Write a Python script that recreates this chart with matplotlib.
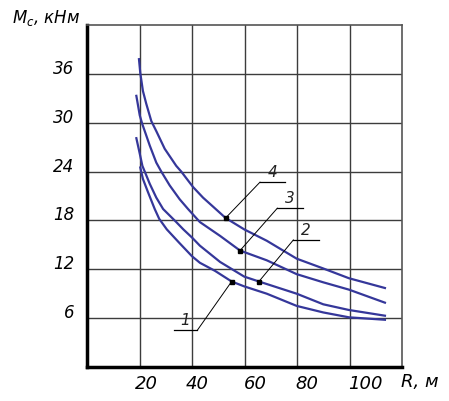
import numpy as np
import matplotlib.pyplot as plt
import matplotlib.transforms as mtransforms

plt.rcParams['font.family'] = ['DejaVu Sans']

# R, m  ->  Mc, kNm (1 = lowest ... 4 = highest)
r1 = [20.3, 21.3, 23.2, 25.8, 27.5, 30.4, 35, 40, 43, 48.8, 55.1, 59.9, 68.5, 79.9, 90, 99.8, 113.5]
m1 = [24.5, 23.1, 21.5, 19.4, 18.2, 16.9, 15.3, 13.6, 12.8, 11.8, 10.5, 9.9, 9.0, 7.5, 6.7, 6.1, 5.8]
r2 = [18.8, 20.1, 21.1, 22.0, 23.9, 26.4, 29, 34, 36.7, 40, 43, 50.7, 59.9, 65.5, 79.9, 90, 99.8, 113.5]
m2 = [28.1, 26.2, 24.7, 24.0, 22.5, 20.8, 19.4, 17.8, 16.9, 15.9, 14.9, 12.9, 11.1, 10.5, 9.0, 7.7, 7.0, 6.3]
r3 = [18.8, 20.1, 21.1, 22.4, 23.9, 26.4, 28.3, 31.5, 35.3, 38.5, 43, 50.7, 58.3, 68.5, 79.9, 90, 99.8, 113.5]
m3 = [33.3, 30.9, 29.8, 28.6, 27.2, 25.1, 24.0, 22.3, 20.6, 19.4, 17.8, 16.1, 14.3, 13.1, 11.4, 10.4, 9.5, 7.9]
r4 = [19.8, 20.3, 21.3, 22.6, 24.5, 26.5, 29.6, 34.0, 35.9, 40.4, 44.2, 48, 52.8, 59.9, 68.5, 79.9, 90, 99.8, 113.5]
m4 = [37.8, 36.1, 33.9, 32.3, 30.2, 28.9, 26.8, 24.7, 24.0, 22.1, 20.8, 19.7, 18.3, 16.9, 15.5, 13.3, 12.1, 10.9, 9.7]

curve_names = ['1', '2', '3', '4']
# points on the curves where the callouts start
mark_r = [55.1, 65.5, 58.3, 52.8]
mark_m = [10.5, 10.5, 14.3, 18.3]

x_ticks = [20, 40, 60, 80, 100]
y_ticks = [6, 12, 18, 24, 30, 36]

line_col = '#35379a'
grid_col = '#3c3c3c'

fig = plt.figure(figsize=(4.49, 4.02), dpi=100)
ax = fig.add_axes([87/449, 34/402, 315/449, 342/402])

for r, m in [(r1, m1), (r2, m2), (r3, m3), (r4, m4)]:
    ax.plot(r, m, color=line_col, lw=1.6, zorder=3, solid_joinstyle='round')

ax.plot(mark_r, mark_m, 's', color='black', ms=3, zorder=4)

# callout shelves: (x from, x to, y), leader goes to the near end
shelf = [(33.1, 42.0, 4.5), (78.6, 88.4, 15.6), (72.5, 82.2, 19.5), (65.9, 75.4, 22.7)]
for i in range(4):
    x0, x1, ys = shelf[i]
    end = x1 if i == 0 else x0
    ax.plot([mark_r[i], end], [mark_m[i], ys], color='black', lw=0.7, zorder=4)
    ax.plot([x0, x1], [ys, ys], color='black', lw=0.9, zorder=4)
    ax.text((x0 + x1) / 2, ys + 0.4, curve_names[i], fontsize=11, style='italic',
            ha='center', va='bottom', color='#222222')

ax.set_xlim(0, 120)
ax.set_ylim(0, 42)
ax.set_xticks(x_ticks)
ax.set_yticks(y_ticks)
ax.set_xticklabels([str(v) for v in x_ticks], fontsize=13, style='italic')
ax.set_yticklabels([str(v) for v in y_ticks], fontsize=12, style='italic')
ax.tick_params(length=0)
ax.tick_params(axis='y', pad=9)
ax.tick_params(axis='x', pad=5)
ax.grid(True, color=grid_col, lw=1.0)
ax.set_axisbelow(True)

for s in ['left', 'bottom']:
    ax.spines[s].set_linewidth(2.5)
    ax.spines[s].set_color('black')
for s in ['top', 'right']:
    ax.spines[s].set_linewidth(1.2)
    ax.spines[s].set_color('#555555')

# shift tick labels a little, as in the drawing
for lab in ax.get_yticklabels():
    lab.set_transform(lab.get_transform() + mtransforms.ScaledTranslation(0, 0.08, fig.dpi_scale_trans))
x_shift = [7, 5, 11, 10, 16]
for lab, dx in zip(ax.get_xticklabels(), x_shift):
    lab.set_transform(lab.get_transform() + mtransforms.ScaledTranslation(dx / 100, 0, fig.dpi_scale_trans))

fig.text(12/449, 1 - 23/402, r'$M_c$, кНм', fontsize=12, style='italic', va='baseline')
fig.text(420/449, 1 - 382/402, 'R, м', fontsize=13, style='italic', ha='center', va='center')

fig.savefig('out.png', dpi=100)
